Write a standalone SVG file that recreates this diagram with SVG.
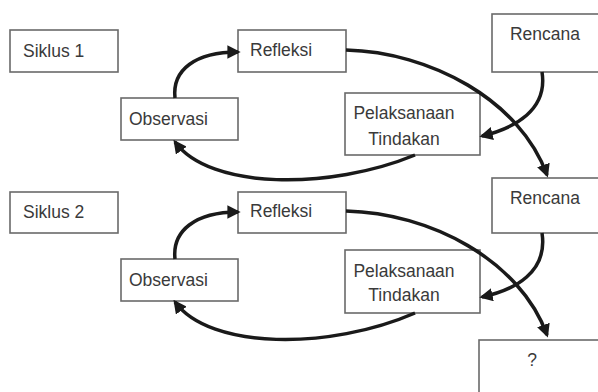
<svg xmlns="http://www.w3.org/2000/svg" width="598" height="392" viewBox="0 0 598 392">
<style>
.box{fill:#fff;stroke:#6a6a6a;stroke-width:1.6}
.t{font-family:"Liberation Sans",Arial,sans-serif;font-size:17.5px;fill:#3a3a3a}
.c{text-anchor:middle}
.ar{fill:none;stroke:#1a1a1a;stroke-width:3.5}
</style>
<defs>
<marker id="ah" viewBox="0 0 10 10" refX="8" refY="5" markerWidth="3.8" markerHeight="3.8" orient="auto" markerUnits="strokeWidth">
<path d="M0,0 L10,5 L0,10 z" fill="#1a1a1a"/>
</marker>
</defs>
<rect width="598" height="392" fill="#fff"/>
<g id="siklus1"><rect class="box" x="10" y="30" width="108" height="42"/><text class="t" x="23" y="57">Siklus 1</text></g>
<g id="refleksi1"><rect class="box" x="238" y="30" width="108" height="42"/><text class="t" x="250" y="56">Refleksi</text></g>
<g id="observasi1"><rect class="box" x="121" y="98" width="117" height="42"/><text class="t" x="129" y="125">Observasi</text></g>
<g id="rencana1"><rect class="box" x="492" y="14" width="108" height="58"/><text class="t c" x="545" y="40">Rencana</text></g>
<g id="pelaksanaan1"><rect class="box" x="345" y="93" width="135" height="62"/><text class="t c" x="404" y="119">Pelaksanaan</text><text class="t c" x="404" y="145">Tindakan</text></g>
<g id="siklus2"><rect class="box" x="10" y="192" width="108" height="41"/><text class="t" x="23" y="218">Siklus 2</text></g>
<g id="refleksi2"><rect class="box" x="238" y="192" width="108" height="41"/><text class="t" x="250" y="217">Refleksi</text></g>
<g id="observasi2"><rect class="box" x="121" y="259" width="117" height="42"/><text class="t" x="129" y="286">Observasi</text></g>
<g id="rencana2"><rect class="box" x="492" y="178" width="108" height="55"/><text class="t c" x="545" y="204">Rencana</text></g>
<g id="pelaksanaan2"><rect class="box" x="345" y="250" width="135" height="63"/><text class="t c" x="404" y="277">Pelaksanaan</text><text class="t c" x="404" y="301">Tindakan</text></g>
<g id="tanya"><rect class="box" x="479" y="340" width="125" height="60"/><text class="t c" x="532" y="366">?</text></g>
<g id="connectors">
<path class="ar" d="M175,98 C172,70 195,52 238,52" marker-end="url(#ah)"/>
<path class="ar" d="M346,50 C430,52 520,100 547,175" marker-end="url(#ah)"/>
<path class="ar" d="M542,72 C548,110 515,128 482,136" marker-end="url(#ah)"/>
<path class="ar" d="M415,155 C330,190 210,190 175,142" marker-end="url(#ah)"/>
<path class="ar" d="M175,259 C172,231 195,212 238,212" marker-end="url(#ah)"/>
<path class="ar" d="M346,211 C430,213 520,260 547,335" marker-end="url(#ah)"/>
<path class="ar" d="M542,233 C548,272 515,290 482,297" marker-end="url(#ah)"/>
<path class="ar" d="M415,313 C330,350 210,350 175,302" marker-end="url(#ah)"/>
</g>
</svg>
